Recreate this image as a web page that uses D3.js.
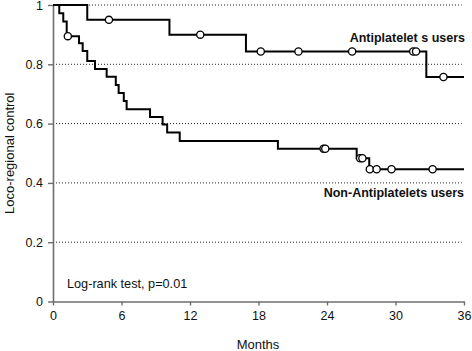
<!DOCTYPE html>
<html>
<head>
<meta charset="utf-8">
<script src="https://cdn.jsdelivr.net/npm/d3@7"></script>
<style>
  html, body { margin: 0; padding: 0; background: #fff; }
  svg { display: block; font-family: "Liberation Sans", Arial, sans-serif; }
</style>
</head>
<body>
<svg id="chart" width="472" height="351"></svg>
<script>
// ---- Data ----
const xTicks = [0, 6, 12, 18, 24, 30, 36];
const yTicks = [0, 0.2, 0.4, 0.6, 0.8, 1];
const yTickLabels = ["0", "0.2", "0.4", "0.6", "0.8", "1"];

// Antiplatelet users: step times and survival after each step
const antiTimes = [0, 3.0, 10.2, 16.9, 32.7];
const antiSurv  = [1, 0.950, 0.900, 0.843, 0.757];
const antiCensor = [4.9, 12.9, 18.2, 21.5, 26.2, 31.55, 31.8, 34.2];

// Non-antiplatelet users
const nonTimes = [0, 0.55, 0.9, 1.2, 2.28, 2.6, 3.0, 3.68, 4.7, 5.5, 5.75, 6.2, 6.45, 8.5, 9.6, 10.0, 11.1, 19.7, 26.6, 27.7];
const nonSurv  = [1, 0.972, 0.944, 0.895, 0.871, 0.845, 0.811, 0.784, 0.758, 0.730, 0.703, 0.676, 0.648, 0.622, 0.597, 0.570, 0.541, 0.515, 0.483, 0.446];
const nonCensor = [1.3, 23.7, 23.85, 26.9, 27.1, 27.75, 28.35, 29.65, 33.25];

const endTime = 36;

// ---- Scales ----
const svg = d3.select("#chart");
const x = d3.scaleLinear().domain([0, 36]).range([53, 464]);
const y = d3.scaleLinear().domain([0, 1]).range([301.5, 5]);

// Gridlines (dotted)
svg.append("g").selectAll("line")
  .data(yTicks.filter(d => d > 0))
  .join("line")
  .attr("x1", x(0)).attr("x2", x(35.8))
  .attr("y1", d => y(d)).attr("y2", d => y(d))
  .attr("stroke", "#222").attr("stroke-width", 1)
  .attr("stroke-dasharray", "1,2");

// Axes
const axisColor = "#6e6e6e";
const xAxis = svg.append("g")
  .attr("transform", `translate(0,${y(0)})`)
  .call(d3.axisBottom(x).tickValues(xTicks).tickSize(4).tickSizeOuter(0).tickPadding(6).tickFormat(d3.format("d")));
const yAxis = svg.append("g")
  .attr("transform", `translate(${x(0)},0)`)
  .call(d3.axisLeft(y).tickValues(yTicks).tickSize(5).tickSizeOuter(0).tickPadding(5)
    .tickFormat((d, i) => yTickLabels[i]));
[xAxis, yAxis].forEach(a => {
  a.selectAll("path.domain").attr("stroke", axisColor).attr("stroke-width", 1.6);
  a.selectAll(".tick line").attr("stroke", axisColor).attr("stroke-width", 1.4);
  a.selectAll(".tick text").attr("fill", "#111").style("font-size", "12.5px")
    .style("font-family", "'Liberation Sans', Arial, sans-serif");
});

// Step-function helper
function stepPoints(times, surv) {
  const pts = times.map((t, i) => [t, surv[i]]);
  pts.push([endTime, surv[surv.length - 1]]);
  return pts;
}
function survAt(times, surv, t) {
  let v = surv[0];
  for (let i = 0; i < times.length; i++) if (times[i] <= t) v = surv[i];
  return v;
}

const line = d3.line().x(d => x(d[0])).y(d => y(d[1])).curve(d3.curveStepAfter);

const series = [
  { times: antiTimes, surv: antiSurv, censor: antiCensor },
  { times: nonTimes, surv: nonSurv, censor: nonCensor }
];

series.forEach(s => {
  svg.append("path")
    .datum(stepPoints(s.times, s.surv))
    .attr("d", line)
    .attr("fill", "none")
    .attr("stroke", "#000")
    .attr("stroke-width", 2);
});
series.forEach(s => {
  svg.append("g").selectAll("circle")
    .data(s.censor)
    .join("circle")
    .attr("cx", d => x(d))
    .attr("cy", d => y(survAt(s.times, s.surv, d)))
    .attr("r", 3.6)
    .attr("fill", "#fff")
    .attr("stroke", "#000")
    .attr("stroke-width", 1.3);
});

// Labels
svg.append("text").attr("x", 465).attr("y", 41.5)
  .attr("text-anchor", "end").attr("font-weight", "bold").style("font-size", "12.5px")
  .attr("fill", "#111").text("Antiplatelet s users");
svg.append("text").attr("x", 464).attr("y", 196.5)
  .attr("text-anchor", "end").attr("font-weight", "bold").style("font-size", "12.5px")
  .attr("fill", "#111").text("Non-Antiplatelets users");
svg.append("text").attr("x", 67).attr("y", 287.5)
  .style("font-size", "12.7px").attr("fill", "#111").text("Log-rank test, p=0.01");

// Axis titles
svg.append("text").attr("x", 258).attr("y", 349)
  .attr("text-anchor", "middle").style("font-size", "13px").attr("fill", "#111").text("Months");
svg.append("text")
  .attr("transform", `translate(14,${(y(0) + y(1)) / 2}) rotate(-90)`)
  .attr("text-anchor", "middle").style("font-size", "13px").attr("fill", "#111")
  .text("Loco-regional control");
</script>
</body>
</html>
